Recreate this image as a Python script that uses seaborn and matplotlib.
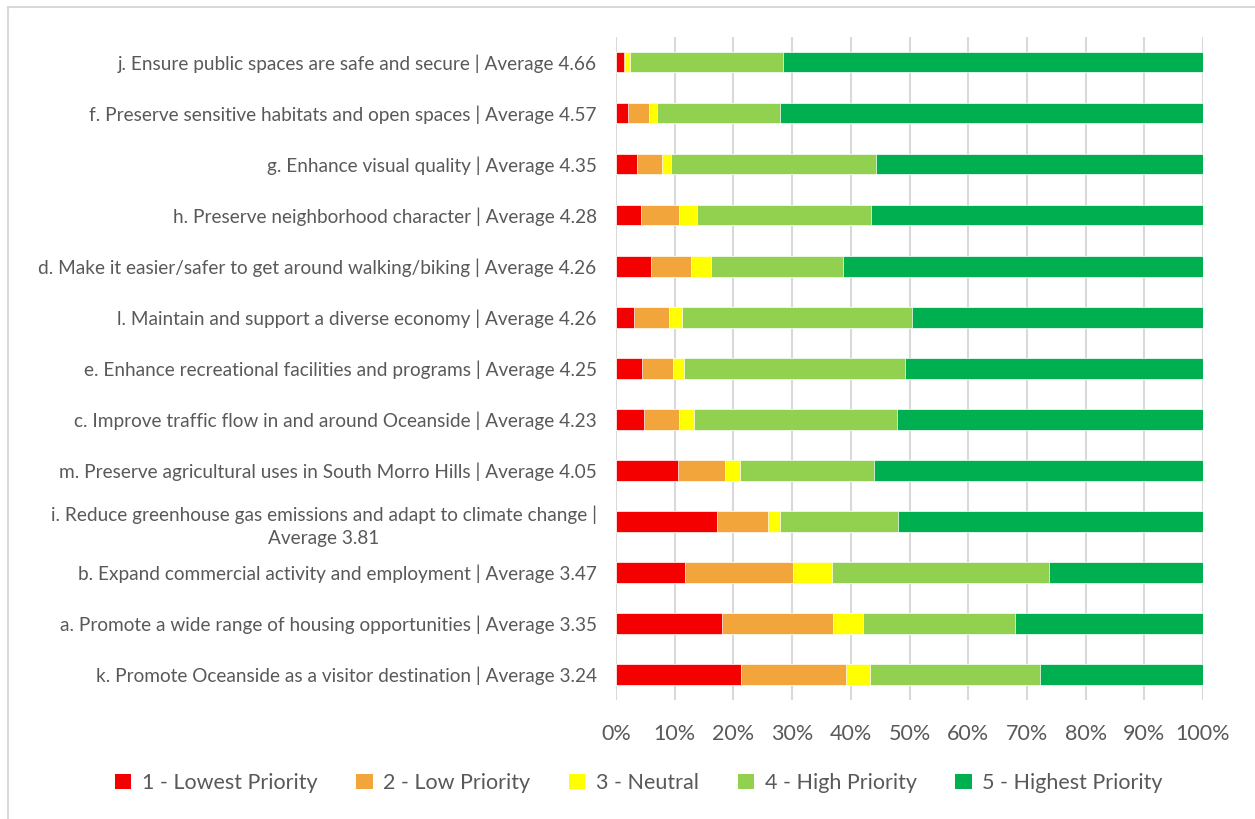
import numpy as np
import pandas as pd
import seaborn as sns
import matplotlib.pyplot as plt
from matplotlib.patches import Patch
from matplotlib.lines import Line2D
from matplotlib.ticker import PercentFormatter

sns.set_style("white")
plt.rcParams['font.family'] = ['Lato', 'DejaVu Sans']

# survey items, top to bottom
items = [
    "j. Ensure public spaces are safe and secure | Average 4.66",
    "f. Preserve sensitive habitats and open spaces | Average 4.57",
    "g. Enhance visual quality | Average 4.35",
    "h. Preserve neighborhood character | Average 4.28",
    "d. Make it easier/safer to get around walking/biking | Average 4.26",
    "l. Maintain and support a diverse economy | Average 4.26",
    "e. Enhance recreational facilities and programs | Average 4.25",
    "c. Improve traffic flow in and around Oceanside | Average 4.23",
    "m. Preserve agricultural uses in South Morro Hills | Average 4.05",
    "i. Reduce greenhouse gas emissions and adapt to climate change |\nAverage 3.81",
    "b. Expand commercial activity and employment | Average 3.47",
    "a. Promote a wide range of housing opportunities | Average 3.35",
    "k. Promote Oceanside as a visitor destination | Average 3.24",
]
# share of responses (%) per priority level
lowest  = [1.3, 2.0, 3.6, 4.2, 6.0, 3.0, 4.4, 4.8, 10.6, 17.2, 11.8, 18.1, 21.3]
low     = [0.3, 3.6, 4.2, 6.5, 6.8, 6.0, 5.3, 6.0, 8.0, 8.7, 18.4, 18.9, 17.8]
neutral = [0.8, 1.4, 1.6, 3.1, 3.3, 2.2, 1.9, 2.5, 2.6, 2.0, 6.6, 5.1, 4.2]
high    = [26.0, 21.0, 34.9, 29.6, 22.6, 39.2, 37.6, 34.6, 22.8, 20.1, 37.0, 25.8, 28.9]
highest = [71.6, 72.0, 55.7, 56.6, 61.3, 49.6, 50.8, 52.1, 56.0, 52.0, 26.2, 32.1, 27.8]

levels = ["1 - Lowest Priority", "2 - Low Priority", "3 - Neutral",
          "4 - High Priority", "5 - Highest Priority"]
colors = ["#f40000", "#f2a53a", "#ffff00", "#92d050", "#00b050"]

df = pd.DataFrame({"item": items, levels[0]: lowest, levels[1]: low,
                   levels[2]: neutral, levels[3]: high, levels[4]: highest})
df = df.set_index("item")
cum = df.div(df.sum(axis=1), axis=0).cumsum(axis=1)

fig = plt.figure(figsize=(12.55, 8.19), dpi=100)
ax = fig.add_axes([616/1255, 1-700/819, 587/1255, 663.5/819])

# draw stacked bars from the longest cumulative segment down
for lev, col in reversed(list(zip(levels, colors))):
    sns.barplot(x=cum[lev].values, y=cum.index, color=col, orient="h",
                width=0.405, saturation=1, edgecolor="white", linewidth=0.5,
                ax=ax, zorder=3)

ax.set_xlim(0, 1)
ax.set_xticks(np.linspace(0, 1, 11))
ax.xaxis.set_major_formatter(PercentFormatter(1, decimals=0))
ax.grid(axis="x", color="#d9d9d9", linewidth=1.5, zorder=0)
ax.set_axisbelow(True)
sns.despine(ax=ax, left=True, bottom=True)
ax.set_xlabel("")
ax.set_ylabel("")
ax.tick_params(axis="y", length=0, pad=14, labelsize=13.7, labelcolor="#595959")
ax.tick_params(axis="x", length=0, pad=17, labelsize=15.5, labelcolor="#595959")
for t in ax.get_yticklabels():
    t.set_multialignment("center")
    t.set_linespacing(1.45)

handles = [Patch(facecolor=c, edgecolor="none", label=l) for l, c in zip(levels, colors)]
fig.legend(handles=handles, loc="center", bbox_to_anchor=(639/1255, 1-783/819),
           ncol=5, frameon=False, fontsize=15.5, labelcolor="#595959",
           handlelength=0.75, handleheight=0.75, handletextpad=0.5,
           columnspacing=1.8)

# chart-area border
fig.add_artist(Line2D([8/1255, 1], [1-7/819, 1-7/819], color="#d9d9d9", lw=1.5))
fig.add_artist(Line2D([8/1255, 8/1255], [0, 1-7/819], color="#d9d9d9", lw=1.5))

fig.savefig("out.png", dpi=100)
